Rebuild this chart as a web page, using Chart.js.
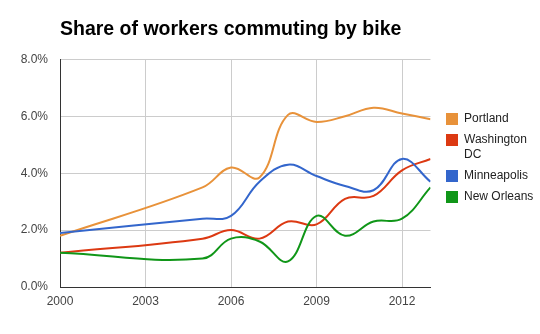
<!DOCTYPE html>
<html>
<head>
<meta charset="utf-8">
<script src="https://cdn.jsdelivr.net/npm/chart.js@4"></script>
<style>
  body { margin: 0; background: #fff; font-family: Arial, "Liberation Sans", sans-serif; }
  #wrap { position: relative; width: 540px; height: 334px; }
  #legend { position: absolute; left: 446px; top: 112px; font-size: 12px; color: #222; }
  #legend .item { display: flex; align-items: flex-start; margin-bottom: 7px; }
  #legend .swatch { width: 12px; height: 12px; flex: none; margin-top: 1px; margin-right: 6px; }
  #legend .text { width: 72px; line-height: 15px; margin-top: -1px; }
</style>
</head>
<body>
<div id="wrap">
  <canvas id="bikeChart" width="540" height="334"></canvas>
  <div id="legend"></div>
</div>
<script>
// Share of workers commuting by bike, percent
const years = [2000, 2005, 2006, 2007, 2008, 2009, 2010, 2011, 2012, 2013];
const portland = [1.8, 3.5, 4.2, 3.85, 6.05, 5.8, 6.0, 6.3, 6.1, 5.9];
const washingtonDC = [1.2, 1.7, 2.0, 1.7, 2.3, 2.2, 3.1, 3.2, 4.1, 4.5];
const minneapolis = [1.9, 2.4, 2.5, 3.7, 4.3, 3.9, 3.55, 3.4, 4.5, 3.7];
const newOrleans = [1.2, 1.0, 1.7, 1.6, 0.9, 2.5, 1.8, 2.3, 2.4, 3.5];

const cityNames = ['Portland', 'Washington DC', 'Minneapolis', 'New Orleans'];
const cityColors = ['#e8923a', '#dc3912', '#3366cc', '#109618'];
const xTicks = [2000, 2003, 2006, 2009, 2012];

const FONT = 'Arial, "Liberation Sans", sans-serif';

const series = [portland, washingtonDC, minneapolis, newOrleans];
const datasets = series.map((vals, i) => ({
    label: cityNames[i],
    data: vals.map((v, j) => ({ x: years[j], y: v })),
    borderColor: cityColors[i],
    backgroundColor: cityColors[i],
    borderWidth: 2,
    pointRadius: 0,
    tension: 0.4,
    fill: false,
    order: series.length - i
}));

const ctx = document.getElementById('bikeChart').getContext('2d');
const chart = new Chart(ctx, {
    type: 'line',
    data: { datasets },
    options: {
        responsive: false,
        animation: false,
        devicePixelRatio: 1,
        layout: { padding: { left: 0, right: 109.5, top: 0, bottom: 0 } },
        plugins: {
            legend: { display: false },
            tooltip: { enabled: false },
            title: {
                display: true,
                text: 'Share of workers commuting by bike',
                align: 'start',
                fullSize: false,
                color: '#000',
                font: { family: FONT, size: 19.5, weight: 'bold' },
                padding: { top: 18, bottom: 18 }
            }
        },
        scales: {
            x: {
                type: 'linear',
                min: 2000,
                max: 2013,
                afterBuildTicks: (scale) => { scale.ticks = xTicks.map(v => ({ value: v })); },
                afterFit: (scale) => { scale.height = 47; },
                grid: { color: '#cccccc', drawTicks: false },
                border: { color: '#333333', width: 1 },
                ticks: {
                    color: '#444',
                    padding: 7,
                    maxRotation: 0,
                    font: { family: FONT, size: 12 },
                    callback: (v) => String(v)
                }
            },
            y: {
                min: 0,
                max: 8,
                afterFit: (scale) => { scale.width = 60; },
                grid: { color: '#cccccc', drawTicks: false },
                border: { color: '#333333', width: 1 },
                ticks: {
                    stepSize: 2,
                    color: '#444',
                    padding: 12,
                    font: { family: FONT, size: 12 },
                    callback: (v) => v.toFixed(1) + '%'
                }
            }
        }
    }
});

// legend on the right, wrapping long names
const legendEl = document.getElementById('legend');
chart.data.datasets.forEach((ds) => {
    const item = document.createElement('div');
    item.className = 'item';
    item.innerHTML = '<span class="swatch" style="background:' + ds.borderColor + '"></span>' +
        '<span class="text">' + ds.label + '</span>';
    legendEl.appendChild(item);
});
</script>
</body>
</html>
